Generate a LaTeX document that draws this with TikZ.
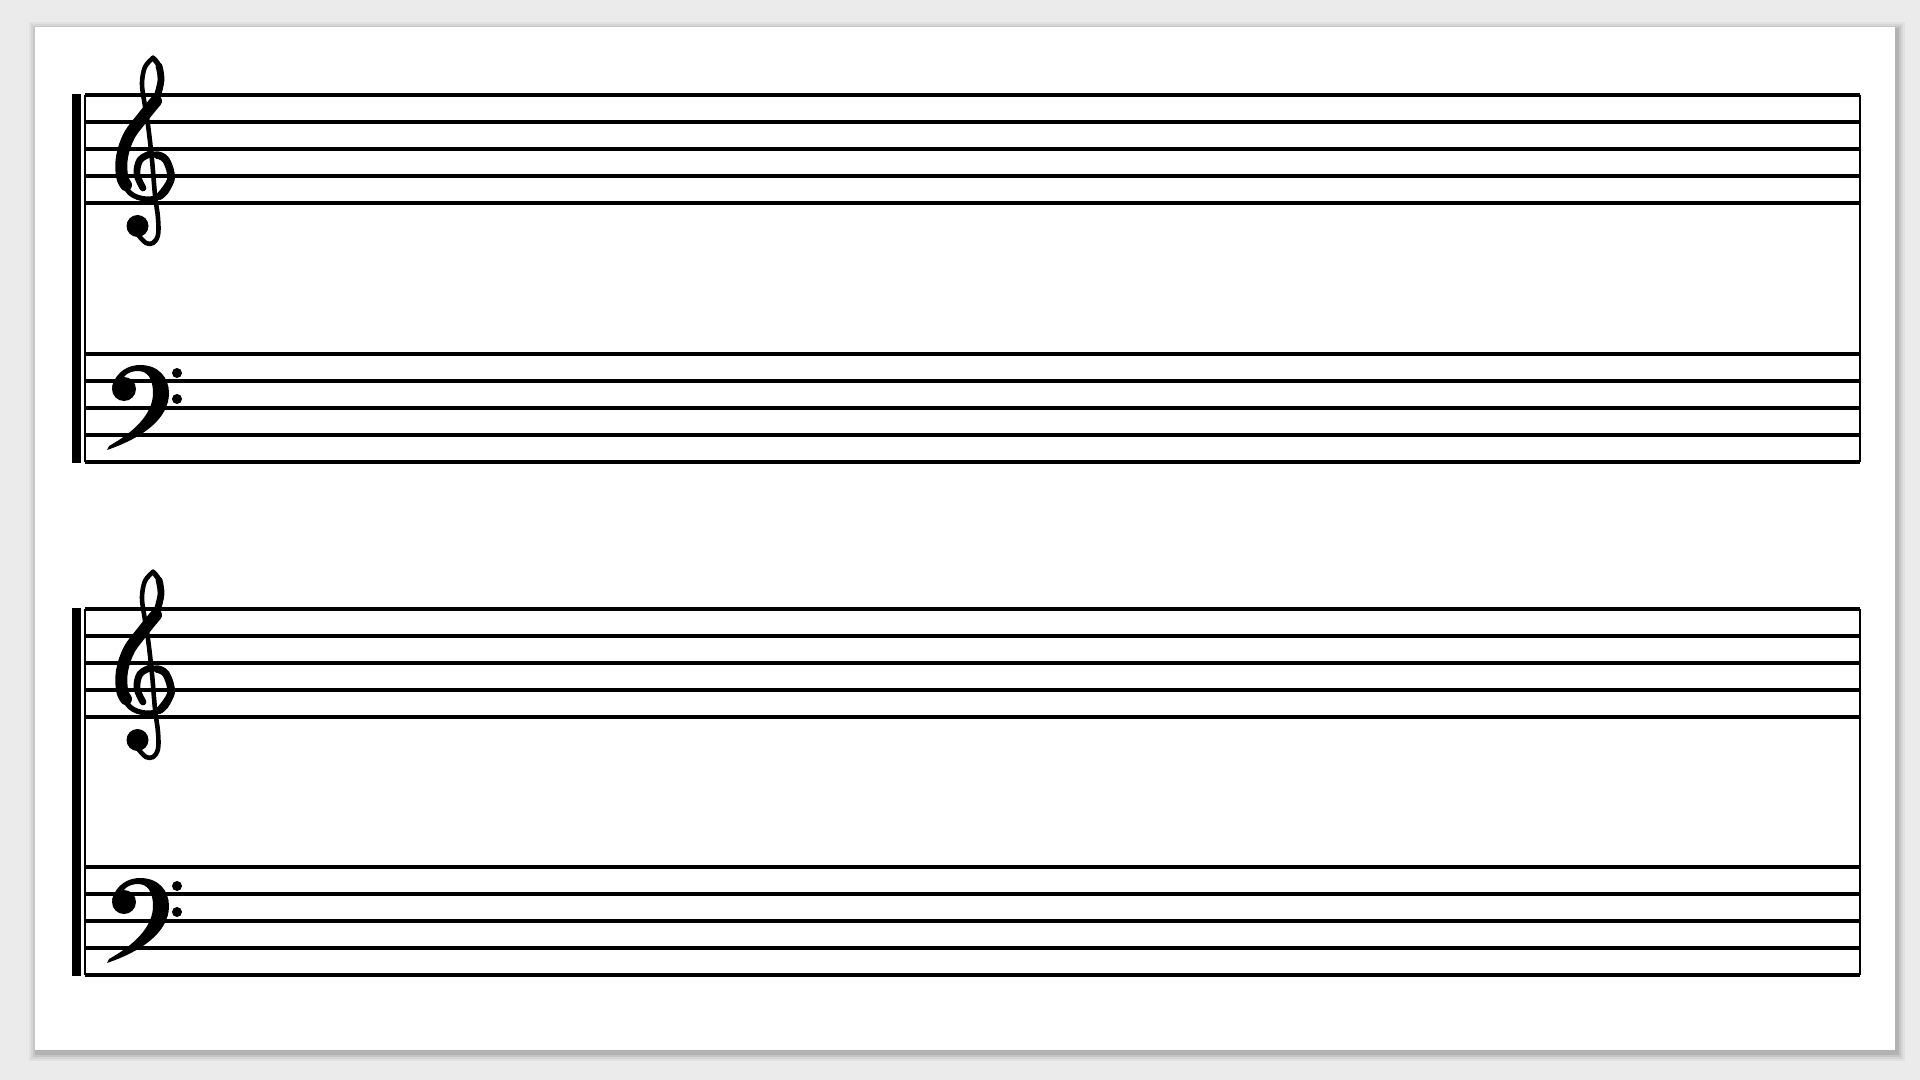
\documentclass[tikz,border=0pt]{standalone}
\definecolor{bggray}{HTML}{EBEBEB}
\begin{document}
\begin{tikzpicture}[x=0.5pt,y=-0.5pt,
  staffline/.style={line width=1.6pt,black},
  edgeline/.style={line width=1pt,black},
  clefstroke/.style={black,line cap=round,line join=round},
  pics/trebleclef/.style={code={
    % thin stem with bottom hook
    \draw[clefstroke,line width=2.3pt] plot[smooth,tension=0.6] coordinates
      {(139,236) (146,243) (153,243) (158,235) (158,218) (155,195) (152,160) (148,125) (144,100) (142,83) (145,67) (153,58)};
    % top loop, diagonal and curl
    \draw[clefstroke,line width=2.6pt] plot[smooth,tension=0.6] coordinates
      {(153,58) (159,66) (161,80) (157,98) (143,117) (129,136) (122,157) (122,177) (130,193) (146,199) (163,195) (171,179) (166,160) (153,154) (140,160) (137,174) (143,188)};
    \draw[clefstroke,line width=3.4pt] plot[smooth,tension=0.6] coordinates
      {(159,66) (161,80) (157,97)};
    \draw[clefstroke,line width=6pt] plot[smooth,tension=0.6] coordinates
      {(156,101) (143,117) (129,136) (122,157) (122,176) (126,185)};
    \draw[clefstroke,line width=3.8pt] plot[smooth,tension=0.6] coordinates
      {(160,196) (171,179) (166,160) (157,155)};
    \draw[clefstroke,line width=3.4pt] plot[smooth,tension=0.6] coordinates
      {(150,154) (140,160) (137,174) (143,188)};
    \fill[black] (137.5,226) circle[radius=11];
  }},
  pics/bassclef/.style={code={
    \fill[black] (124,389) circle[radius=12];
    \fill[black] (112,387) .. controls (116,371) and (129,365) .. (140,365)
      .. controls (159,365) and (169,378) .. (169,393)
      .. controls (169,419) and (142,438) .. (107,450)
      -- (109,446) .. controls (134,432) and (153,414) .. (153,393)
      .. controls (153,378) and (147,371) .. (138,371)
      .. controls (128,371) and (121,377) .. (119,387) -- cycle;
    \fill[black] (177,373) circle[radius=5];
    \fill[black] (177,399) circle[radius=5];
  }}]
\useasboundingbox (0,0) rectangle (1920,1080);
\fill[bggray] (0,0) rectangle (1920,1080);
% page shadow
\foreach \s/\o in {8/0.04,6/0.05,4/0.07,2/0.09}
  \fill[black,opacity=\o] (35-\s+2,27-\s+3) rectangle (1895+\s+2,1050+\s+3);
\fill[white] (35,27) rectangle (1895,1050);
% systems
\foreach \t/\b in {95/354,609/867}{
  \foreach \i in {0,...,4}{
    \draw[staffline] (85,{\t+27*\i}) -- (1860,{\t+27*\i});
    \draw[staffline] (85,{\b+27*\i}) -- (1860,{\b+27*\i});
  }
  \draw[edgeline] (85,\t) -- (85,{\b+108});
  \draw[edgeline] (1860,\t) -- (1860,{\b+108});
  \fill[black] (72,{\t-1}) rectangle (81,{\b+109});
  \pic at (0,{\t-95}) {trebleclef};
  \pic at (0,{\b-354}) {bassclef};
}
\end{tikzpicture}
\end{document}
